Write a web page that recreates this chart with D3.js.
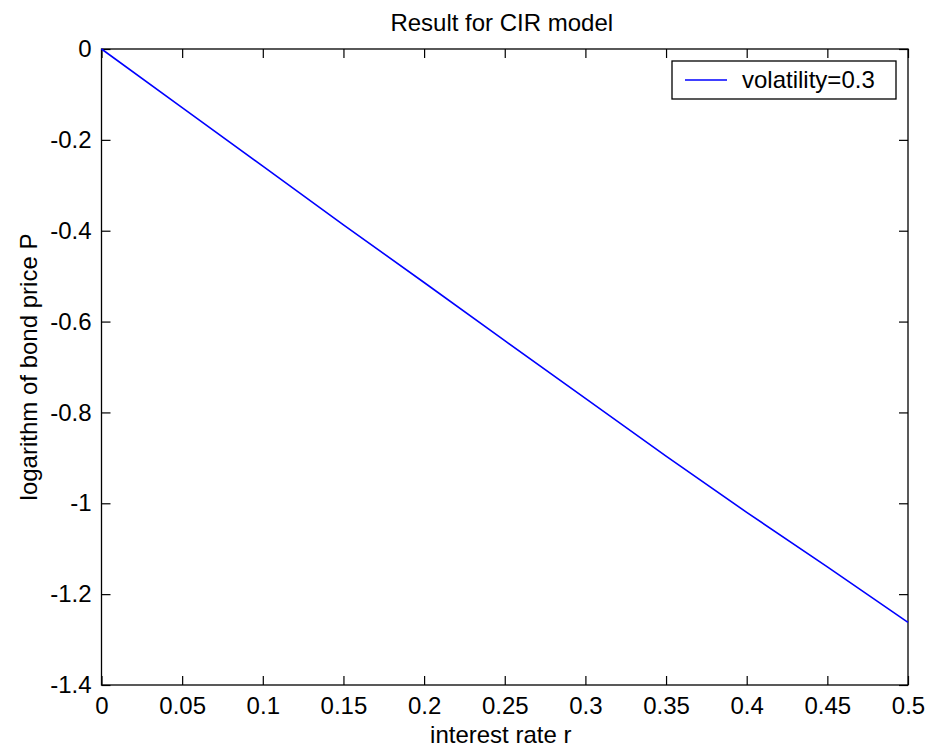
<!DOCTYPE html>
<html>
<head>
<meta charset="utf-8">
<script src="https://cdn.jsdelivr.net/npm/d3@7"></script>
<style>
  html, body { margin: 0; padding: 0; background: #fff; }
  svg { display: block; }
  text { font-family: "Liberation Sans", Arial, sans-serif; fill: #000; }
</style>
</head>
<body>
<div id="chart"></div>
<script>
// Interest rate r (x) and log bond price (y) for the CIR model
const rates = [0, 0.05, 0.1, 0.15, 0.2, 0.25, 0.3, 0.35, 0.4, 0.45, 0.5];
const logPrice = [0, -0.129, -0.258, -0.387, -0.514, -0.642, -0.769, -0.896, -1.02, -1.14, -1.262];

const xTicks = [0, 0.05, 0.1, 0.15, 0.2, 0.25, 0.3, 0.35, 0.4, 0.45, 0.5];
const xTickLabels = ["0", "0.05", "0.1", "0.15", "0.2", "0.25", "0.3", "0.35", "0.4", "0.45", "0.5"];
const yTicks = [0, -0.2, -0.4, -0.6, -0.8, -1, -1.2, -1.4];
const yTickLabels = ["0", "-0.2", "-0.4", "-0.6", "-0.8", "-1", "-1.2", "-1.4"];

const seriesName = "volatility=0.3";
const chartTitle = "Result for CIR model";
const xTitle = "interest rate r";
const yTitle = "logarithm of bond price P";

const W = 926, H = 750;
const plot = { left: 101.5, right: 908, top: 49, bottom: 685 };
const fontSize = 24;
const tickLen = 9;

const svg = d3.select("#chart").append("svg")
  .attr("width", W).attr("height", H);

const x = d3.scaleLinear().domain([0, 0.5]).range([plot.left, plot.right]);
const y = d3.scaleLinear().domain([-1.4, 0]).range([plot.bottom, plot.top]);

const xFmt = d => xTickLabels[xTicks.indexOf(d)];
const yFmt = d => yTickLabels[yTicks.indexOf(d)];

function styleAxis(g) {
  g.select(".domain").remove();
  g.selectAll(".tick line").attr("stroke", "#000").attr("stroke-width", 1.2);
  g.selectAll(".tick text").style("font-size", fontSize + "px")
    .style("font-family", "'Liberation Sans', Arial, sans-serif").attr("fill", "#000");
}

// bottom axis with labels
svg.append("g")
  .attr("transform", `translate(0,${plot.bottom})`)
  .call(d3.axisBottom(x).tickValues(xTicks).tickFormat(xFmt).tickSize(-tickLen).tickPadding(12))
  .call(styleAxis);

// top axis, ticks only
svg.append("g")
  .attr("transform", `translate(0,${plot.top})`)
  .call(d3.axisTop(x).tickValues(xTicks).tickFormat("").tickSize(-tickLen))
  .call(styleAxis);

// left axis with labels
svg.append("g")
  .attr("transform", `translate(${plot.left},0)`)
  .call(d3.axisLeft(y).tickValues(yTicks).tickFormat(yFmt).tickSize(-tickLen).tickPadding(10))
  .call(styleAxis);

// right axis, ticks only
svg.append("g")
  .attr("transform", `translate(${plot.right},0)`)
  .call(d3.axisRight(y).tickValues(yTicks).tickFormat("").tickSize(-tickLen))
  .call(styleAxis);

// axes box
svg.append("rect")
  .attr("x", plot.left).attr("y", plot.top)
  .attr("width", plot.right - plot.left).attr("height", plot.bottom - plot.top)
  .attr("fill", "none").attr("stroke", "#000").attr("stroke-width", 1.3);

// data line
const line = d3.line().x((d, i) => x(rates[i])).y(d => y(d));
svg.append("path")
  .datum(logPrice)
  .attr("d", line)
  .attr("fill", "none")
  .attr("stroke", "#0000ff")
  .attr("stroke-width", 1.6);

// title and axis labels
svg.append("text")
  .attr("x", (plot.left + plot.right) / 2 - 3).attr("y", 31)
  .attr("text-anchor", "middle").style("font-size", fontSize + "px")
  .text(chartTitle);

svg.append("text")
  .attr("x", (plot.left + plot.right) / 2 - 4).attr("y", 743)
  .attr("text-anchor", "middle").style("font-size", fontSize + "px")
  .text(xTitle);

svg.append("text")
  .attr("transform", `translate(37,${(plot.top + plot.bottom) / 2}) rotate(-90)`)
  .attr("text-anchor", "middle").style("font-size", fontSize + "px")
  .text(yTitle);

// legend
const lg = { x: 672, y: 61, w: 224, h: 38 };
svg.append("rect")
  .attr("x", lg.x).attr("y", lg.y).attr("width", lg.w).attr("height", lg.h)
  .attr("fill", "#fff").attr("stroke", "#000").attr("stroke-width", 1.3);
svg.append("line")
  .attr("x1", lg.x + 13).attr("x2", lg.x + 55)
  .attr("y1", lg.y + lg.h / 2).attr("y2", lg.y + lg.h / 2)
  .attr("stroke", "#0000ff").attr("stroke-width", 1.6);
svg.append("text")
  .attr("x", lg.x + 70).attr("y", lg.y + lg.h / 2)
  .attr("dy", "0.35em").style("font-size", fontSize + "px")
  .text(seriesName);
</script>
</body>
</html>
